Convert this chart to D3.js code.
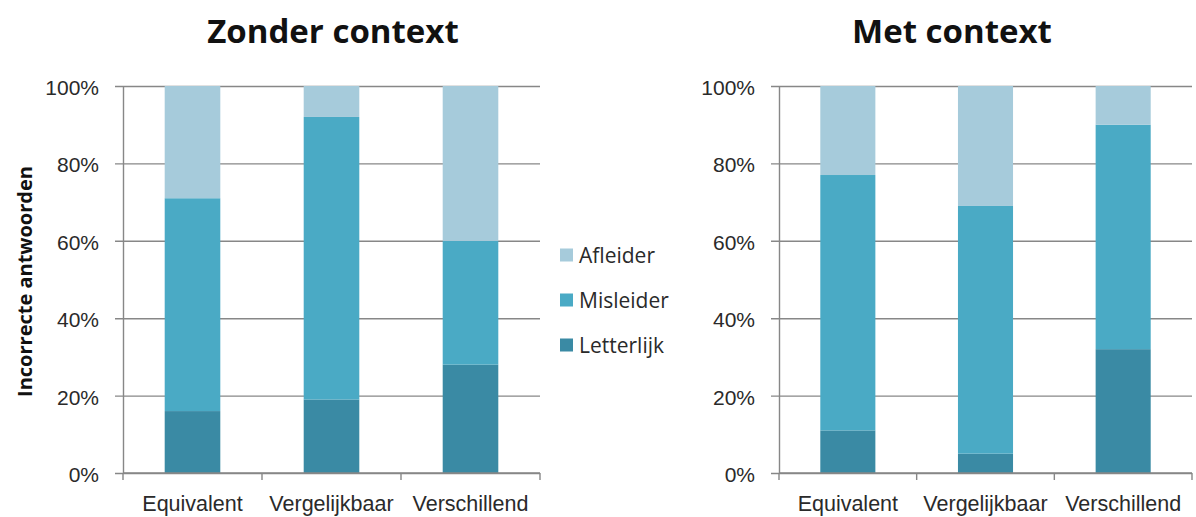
<!DOCTYPE html>
<html lang="nl">
<head>
<meta charset="UTF-8">
<title>Incorrecte antwoorden</title>
<script src="https://d3js.org/d3.v7.min.js"></script>
<style>
    body { margin: 0; background: #fff; }
    svg { display: block; font-family: "Open Sans", sans-serif; }
    .grid line, .grid path { stroke: #878787; stroke-width: 1.4; }
    .ytick text { fill: #2a2a2a; font-size: 21px; }
    .xlab text { fill: #2a2a2a; font-size: 21.5px; }
</style>
</head>
<body>
<svg id="chart" width="1196" height="517"></svg>
<script>
    // data (percentages)
    const categories = ["Equivalent", "Vergelijkbaar", "Verschillend"];
    const seriesNames = ["Letterlijk", "Misleider", "Afleider"];
    const colors = ["#3a8aa4", "#4aaac5", "#a6cbdb"];
    const yTicks = [0, 20, 40, 60, 80, 100];

    const zonderLetterlijk = [16, 19, 28];
    const zonderMisleider = [55, 73, 32];
    const zonderAfleider = [29, 8, 40];

    const metLetterlijk = [11, 5, 32];
    const metMisleider = [66, 64, 58];
    const metAfleider = [23, 31, 10];

    const panels = [
        { title: "Zonder context", x0: 123, x1: 540, titleX: 333, ylabel: true,
          values: [zonderLetterlijk, zonderMisleider, zonderAfleider] },
        { title: "Met context", x0: 779, x1: 1192, titleX: 952, ylabel: false,
          values: [metLetterlijk, metMisleider, metAfleider] }
    ];

    const yTop = 86, yBottom = 473;
    const svg = d3.select("#chart");

    panels.forEach(p => {
        const g = svg.append("g");
        const w = p.x1 - p.x0;

        const x = d3.scaleBand().domain(categories).range([p.x0, p.x1])
            .paddingInner(0.6).paddingOuter(0.3);
        const y = d3.scaleLinear().domain([0, 100]).range([yBottom, yTop]);

        // gridlines + y axis
        const ya = g.append("g")
            .attr("class", "grid ytick")
            .attr("transform", `translate(${p.x0},0)`)
            .call(d3.axisLeft(y).tickValues(yTicks).tickFormat(d => d + "%")
                .tickSizeInner(-w).tickSizeOuter(0).tickPadding(24));
        ya.selectAll(".tick line").attr("x1", -8);
        ya.selectAll(".tick text").attr("dy", "0.4em");

        // stacked bars
        const rows = categories.map((c, i) => {
            const r = { cat: c };
            seriesNames.forEach((s, k) => r[s] = p.values[k][i]);
            return r;
        });
        const stacked = d3.stack().keys(seriesNames)(rows);

        g.selectAll(".layer")
            .data(stacked)
            .join("g")
            .attr("fill", (d, i) => colors[i])
            .selectAll("rect")
            .data(d => d)
            .join("rect")
            .attr("x", d => x(d.data.cat))
            .attr("width", x.bandwidth())
            .attr("y", d => y(d[1]))
            .attr("height", d => y(d[0]) - y(d[1]));

        // x axis
        const xa = g.append("g")
            .attr("class", "grid xlab")
            .attr("transform", `translate(0,${yBottom})`)
            .call(d3.axisBottom(x).tickSize(0).tickPadding(22.5));
        xa.select(".domain").remove();
        g.append("line")
            .attr("x1", p.x0).attr("x2", p.x1)
            .attr("y1", yBottom).attr("y2", yBottom)
            .attr("stroke", "#878787").attr("stroke-width", 1.4);
        // boundary tick marks
        g.selectAll(".btick")
            .data(d3.range(categories.length + 1))
            .join("line")
            .attr("x1", i => p.x0 + i * x.step())
            .attr("x2", i => p.x0 + i * x.step())
            .attr("y1", yBottom).attr("y2", yBottom + 7)
            .attr("stroke", "#878787").attr("stroke-width", 1.4);

        // title
        svg.append("text")
            .attr("x", p.titleX).attr("y", 43)
            .attr("text-anchor", "middle")
            .style("font-size", "33px").style("font-weight", "bold")
            .style("fill", "#111")
            .text(p.title);

        if (p.ylabel) {
            svg.append("text")
                .attr("transform", `translate(32,${(yTop + yBottom) / 2 + 2}) rotate(-90)`)
                .attr("text-anchor", "middle")
                .style("font-size", "20px").style("font-weight", "bold")
                .style("fill", "#111")
                .text("Incorrecte antwoorden");
        }
    });

    // legend (top item first)
    const legendItems = seriesNames.map((s, i) => ({ name: s, color: colors[i] })).reverse();
    const legend = svg.append("g").attr("transform", "translate(560,255)");
    legend.selectAll("rect")
        .data(legendItems)
        .join("rect")
        .attr("x", 0)
        .attr("y", (d, i) => i * 45 - 6.5)
        .attr("width", 13).attr("height", 13)
        .attr("fill", d => d.color);
    legend.selectAll("text")
        .data(legendItems)
        .join("text")
        .attr("x", 19)
        .attr("y", (d, i) => i * 45)
        .attr("dy", "0.36em")
        .style("font-size", "21px")
        .style("fill", "#2a2a2a")
        .text(d => d.name);
</script>
</body>
</html>
